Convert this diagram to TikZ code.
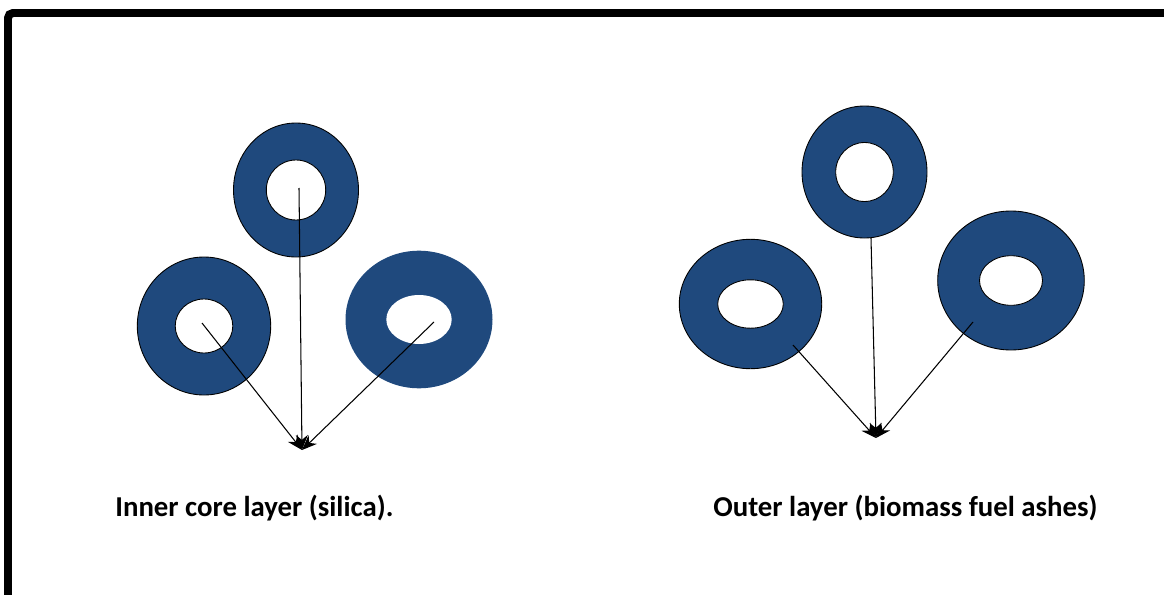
\documentclass[tikz,border=0pt]{standalone}
\usepackage{fontspec}
\setmainfont{Carlito}
\usepackage{xcolor}
\definecolor{ringblue}{HTML}{1F497D}
\usetikzlibrary{calc,arrows.meta,positioning}

\tikzset{
  ring/.style={fill=ringblue, draw=black, line width=0.5pt},
  hole/.style={fill=white, draw=black, line width=0.5pt},
  feed/.style={-{Stealth[length=0.3cm, width=0.24cm]}, line width=0.6pt, black},
  caption/.style={font=\fontsize{16.4}{19}\selectfont\bfseries, anchor=base west, inner sep=0pt}
}

\begin{document}
\begin{tikzpicture}[x=0.02cm, y=-0.02cm]
    		\useasboundingbox (0,0) rectangle (1164,595);

    		% Frame (top and left edges only)
    		\draw[line width=0.16cm, rounded corners=0.1cm] (8,600) -- (8,13) -- (1170,13);

    		% ---- Inner core group ----
    		\coordinate (CoreTop) at (296,190);
    		\coordinate (CoreLeft) at (204,326);
    		\coordinate (CoreRight) at (419,319.5);
    		\coordinate (CoreMeet) at (302,450);

    		% Top ring
    		\filldraw[ring] (CoreTop) ellipse [x radius=62.5, y radius=67];
    		\filldraw[hole] (CoreTop) ellipse [x radius=29.7, y radius=30];

    		% Left ring
    		\filldraw[ring] (CoreLeft) ellipse [x radius=66.7, y radius=69];
    		\filldraw[hole] (CoreLeft) ellipse [x radius=28.8, y radius=27];

    		% Right ring, no outline
    		\fill[ringblue] (CoreRight) ellipse [x radius=73.5, y radius=68.8];
    		\fill[white] (CoreRight) ellipse [x radius=32.7, y radius=24.5];

    		% Arrows to the meeting point
    		\coordinate (CoreTopStart) at (299,188);
    		\coordinate (CoreLeftStart) at (202,323);
    		\coordinate (CoreRightStart) at (434,322);
    		\draw[feed] (CoreLeftStart) -- (CoreMeet);
    		\draw[feed] (CoreTopStart) -- (CoreMeet);
    		\draw[feed] (CoreRightStart) -- (CoreMeet);

    		\node[caption] (coreLabel) at (115,516) {Inner core layer (silica).};

    		% ---- Outer layer group ----
    		\coordinate (AshTop) at (864.5,172);
    		\coordinate (AshLeft) at (750.5,304);
    		\coordinate (AshRight) at (1011,280.5);
    		\coordinate (AshMeet) at (876,438);

    		% Top ring
    		\filldraw[ring] (AshTop) ellipse [x radius=62.5, y radius=66];
    		\filldraw[hole] (AshTop) ellipse [x radius=28.8, y radius=29.5];

    		% Left ring
    		\filldraw[ring] (AshLeft) ellipse [x radius=71.2, y radius=64.7];
    		\filldraw[hole] (AshLeft) ellipse [x radius=32.8, y radius=24.2];

    		% Right ring
    		\filldraw[ring] (AshRight) ellipse [x radius=73.3, y radius=69.5];
    		\filldraw[hole] (AshRight) ellipse [x radius=31.5, y radius=24.8];

    		% Arrows to the meeting point
    		\coordinate (AshTopStart) at (871,238);
    		\coordinate (AshLeftStart) at (793,345);
    		\coordinate (AshRightStart) at (973,322);
    		\draw[feed] (AshLeftStart) -- (AshMeet);
    		\draw[feed] (AshTopStart) -- (AshMeet);
    		\draw[feed] (AshRightStart) -- (AshMeet);

    		\node[caption] (ashLabel) at (713,516) {Outer layer (biomass fuel ashes)};
    	\end{tikzpicture}
\end{document}
